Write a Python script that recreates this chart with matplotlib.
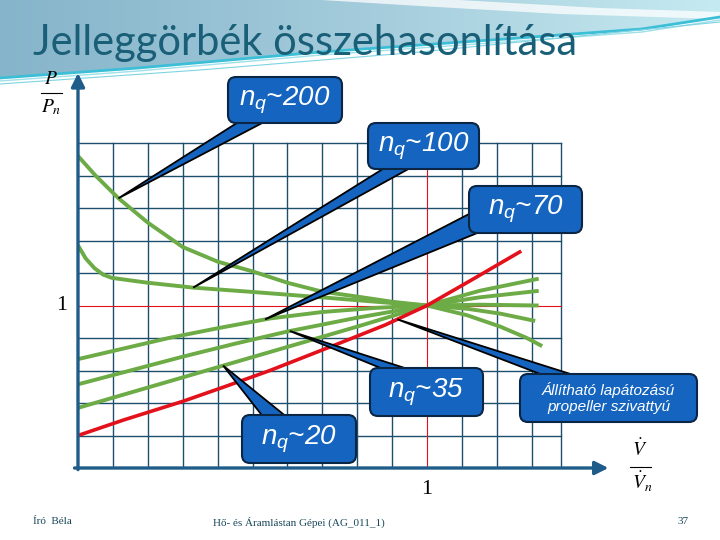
import numpy as np
import matplotlib.pyplot as plt
from matplotlib.patches import FancyBboxPatch, Polygon
from matplotlib.colors import LinearSegmentedColormap

plt.rcParams["mathtext.fontset"] = "custom"
plt.rcParams["mathtext.it"] = "Liberation Sans:italic"
plt.rcParams["mathtext.rm"] = "Liberation Sans"

# V/Vn -> P/Pn
a_x = [0.0, 0.05, 0.116, 0.20, 0.30, 0.40, 0.50, 0.60, 0.70, 0.80, 0.90, 1.0, 1.115, 1.21, 1.286, 1.33]
a_y = [1.92, 1.80, 1.66, 1.51, 1.36, 1.27, 1.21, 1.14, 1.085, 1.055, 1.023, 1.0, 0.94, 0.87, 0.80, 0.75]

b_x = [0.0, 0.022, 0.047, 0.072, 0.097, 0.2, 0.33, 0.49, 0.7, 0.9, 1.0, 1.115, 1.21, 1.31]
b_y = [1.37, 1.29, 1.23, 1.19, 1.17, 1.14, 1.11, 1.085, 1.05, 1.015, 1.0, 0.98, 0.95, 0.905]

c_x = [0.0, 0.13, 0.26, 0.40, 0.55, 0.70, 0.85, 1.0, 1.15, 1.32]
c_y = [0.67, 0.735, 0.80, 0.86, 0.92, 0.96, 0.985, 1.0, 1.005, 1.0]

d_x = [0.0, 0.15, 0.30, 0.45, 0.60, 0.80, 1.0, 1.15, 1.32]
d_y = [0.515, 0.60, 0.685, 0.765, 0.84, 0.925, 1.0, 1.05, 1.09]

e_x = [0.0, 0.2, 0.4, 0.6, 0.8, 1.0, 1.15, 1.32]
e_y = [0.37, 0.495, 0.62, 0.745, 0.87, 1.0, 1.09, 1.165]

# propeller pump
r_x = [0.0, 0.13, 0.30, 0.42, 0.55, 0.74, 0.88, 1.0, 1.13, 1.27]
r_y = [0.20, 0.295, 0.41, 0.50, 0.60, 0.76, 0.88, 1.0, 1.16, 1.335]

labels = [r"$n_q$~200", r"$n_q$~100", r"$n_q$~70", r"$n_q$~35", r"$n_q$~20",
          "Állítható lapátozású\npropeller szivattyú"]
tip_x = [0.116, 0.33, 0.536, 0.607, 0.416, 0.915]

GREEN = "#6cab45"
RED = "#e3111b"
BLUE = "#1565c0"
GRID = "#1d4e6b"
TEAL = "#1a5f78"

fig = plt.figure(figsize=(7.2, 5.4), dpi=100)


def pixel_axes(zorder):
    a = fig.add_axes([0, 0, 1, 1], zorder=zorder)
    a.set_xlim(0, 720)
    a.set_ylim(540, 0)
    a.axis("off")
    a.patch.set_alpha(0)
    return a


# slide background in pixel coordinates
bg = pixel_axes(0)

edge_x = [0, 138, 321, 505, 642, 720]
edge_y = [78, 68, 52, 39, 29, 17]
band = Polygon([(0, 0), (720, 0)] + list(zip(edge_x[::-1], edge_y[::-1])),
               closed=True, facecolor="none", edgecolor="none")
bg.add_patch(band)
cmap = LinearSegmentedColormap.from_list("slide", ["#86b4ca", "#a3cbdb", "#c6eaf1"])
im = bg.imshow(np.linspace(0, 1, 256)[None, :], extent=[0, 720, 90, 0],
               aspect="auto", cmap=cmap, zorder=0)
im.set_clip_path(band)
bg.fill([321, 420, 560, 720, 720, 600, 459], [0, 6, 14, 19, 12, 8, 0],
        color="white", alpha=0.75, lw=0, zorder=1)
bg.plot(edge_x, edge_y, color="#3cbfd6", lw=2.0, zorder=1)
bg.plot(edge_x, [v + 3 for v in edge_y], color="#9fe0ea", lw=1.0, zorder=1)
bg.plot([0, 200, 420, 720], [84, 70, 52, 22], color="#7fd3e2", lw=0.8, zorder=1)

bg.text(33, 43, "Jelleggörbék összehasonlítása", fontsize=30, color=TEAL,
        family="Lato", va="center", ha="left", zorder=2)

bg.text(33, 522, "Író  Béla", fontsize=8, color="#17475a", family="Liberation Serif", va="center")
bg.text(213, 522, "Hő- és Áramlástan Gépei (AG_011_1)", fontsize=8, color="#17475a",
        family="Liberation Serif", va="center")
bg.text(678, 522, "37", fontsize=8, color="#17475a", family="Liberation Serif", va="center")

# chart axes: x 0..1.553 over px 78..620, y 0..2.449 over px 468..70
ax = fig.add_axes([78 / 720, 1 - 468 / 540, 542 / 720, 398 / 540], zorder=1)
ax.set_xlim(0, 542 / 349)
ax.set_ylim(0, 398 / 162.5)
ax.axis("off")
ax.patch.set_alpha(0)

x_end = 1.385
for gx in np.arange(0.1, 1.35, 0.1):
    if abs(gx - 1.0) > 1e-6:
        ax.plot([gx, gx], [0, 2.0], color=GRID, lw=1.0, zorder=1)
ax.plot([x_end, x_end], [0, 2.0], color=GRID, lw=1.0, zorder=1)
for gy in np.arange(0.2, 2.05, 0.2):
    if abs(gy - 1.0) > 1e-6:
        ax.plot([0, x_end], [gy, gy], color=GRID, lw=1.0, zorder=1)
ax.plot([1, 1], [0, 2.0], color=RED, lw=0.8, zorder=1)
ax.plot([0, x_end], [1, 1], color=RED, lw=0.8, zorder=1)

for xs, ys in [(a_x, a_y), (b_x, b_y), (c_x, c_y), (d_x, d_y), (e_x, e_y)]:
    ax.plot(xs, ys, color=GREEN, lw=2.8, solid_capstyle="butt", zorder=3)
ax.plot(r_x, r_y, color=RED, lw=2.6, solid_capstyle="butt", zorder=3)

arrow = dict(arrowstyle="-|>,head_length=0.8,head_width=0.4", color="#1f5c8a", lw=2.4,
             shrinkA=0, shrinkB=0)
ax.annotate("", xy=(0, 2.43), xytext=(0, -0.01), arrowprops=arrow, zorder=4)
ax.annotate("", xy=(1.52, 0), xytext=(-0.01, 0), arrowprops=arrow, zorder=4)

# labels and callouts on top, pixel coordinates
top = pixel_axes(2)
top.text(62, 305, "1", fontsize=16, family="Liberation Serif", ha="center", va="center")
top.text(427, 490, "1", fontsize=16, family="Liberation Serif", ha="center", va="center")
top.text(51, 79, r"$P$", fontsize=14, math_fontfamily="stix", ha="center", va="center")
top.plot([41, 62], [93, 93], color="black", lw=0.8)
top.text(51, 107, r"$P_n$", fontsize=14, math_fontfamily="stix", ha="center", va="center")
top.text(640, 449, r"$\dot{V}$", fontsize=14, math_fontfamily="stix", ha="center", va="center")
top.plot([630, 651], [467, 467], color="black", lw=0.8)
top.text(642, 482, r"$\dot{V}_n$", fontsize=14, math_fontfamily="stix", ha="center", va="center")

# box (left, top, right, bottom) and tail base in pixels
boxes = [(228, 77, 342, 123), (368, 123, 479, 169), (469, 186, 582, 233),
         (370, 368, 483, 416), (242, 415, 356, 463), (520, 374, 697, 422)]
bases = [((240, 121), (266, 121)), ((386, 167), (412, 167)), ((471, 213), (492, 227)),
         ((388, 371), (414, 371)), ((264, 418), (288, 418)), ((548, 377), (580, 377))]
curves = [(a_x, a_y), (b_x, b_y), (c_x, c_y), (d_x, d_y), (e_x, e_y), (r_x, r_y)]

to_top = top.transData.inverted()
for lab, box, base, (cx, cy), tx in zip(labels, boxes, bases, curves, tip_x):
    tip = to_top.transform(ax.transData.transform((tx, np.interp(tx, cx, cy))))
    top.add_patch(Polygon([base[0], base[1], tuple(tip)], closed=True, facecolor=BLUE,
                          edgecolor="black", lw=1.3, zorder=5))
    l, t, r, b = box
    top.add_patch(FancyBboxPatch((l, t), r - l, b - t, boxstyle="round,pad=0,rounding_size=8",
                                 facecolor=BLUE, edgecolor="#0b2545", lw=1.5, zorder=6))
    small = "\n" in lab
    top.text((l + r) / 2, (t + b) / 2, lab, color="white", fontstyle="italic",
             family="Liberation Sans", fontsize=11 if small else 20, ha="center", va="center",
             linespacing=1.15, zorder=7)

fig.savefig("out.png", dpi=100)
